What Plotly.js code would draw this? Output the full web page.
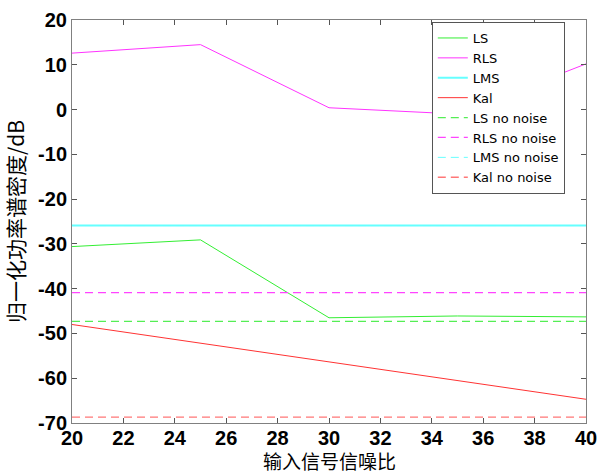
<!DOCTYPE html>
<html>
<head>
<meta charset="utf-8">
<script src="https://cdn.plot.ly/plotly-3.0.1.min.js"></script>
<style>html,body{margin:0;padding:0;background:#fff;}#chart{width:601px;height:476px;}</style>
</head>
<body>
<div id="chart"></div>
<script>
var snr = [20, 25, 30, 35, 40];
var ls = [-30.6, -29.1, -46.5, -46.1, -46.3];
var rls = [12.6, 14.5, 0.4, -1.0, 10.2];
var lms = [-25.9, -25.9, -25.9, -25.9, -25.9];
var kal = [-48.0, -52.2, -56.4, -60.6, -64.7];
var lsNoNoise = [-47.3, -47.3, -47.3, -47.3, -47.3];
var rlsNoNoise = [-40.9, -40.9, -40.9, -40.9, -40.9];
var lmsNoNoise = [-25.9, -25.9, -25.9, -25.9, -25.9];
var kalNoNoise = [-68.7, -68.7, -68.7, -68.7, -68.7];
var names = ['LS', 'RLS', 'LMS', 'Kal', 'LS no noise', 'RLS no noise', 'LMS no noise', 'Kal no noise'];
var xTicks = [20, 22, 24, 26, 28, 30, 32, 34, 36, 38, 40];
var yTicks = [-70, -60, -50, -40, -30, -20, -10, 0, 10, 20];
var xTitle = '输入信号信噪比';
var yTitle = '归一化功率谱密度/dB';

var series = [ls, rls, lms, kal, lsNoNoise, rlsNoNoise, lmsNoNoise, kalNoNoise];
var colors = ['#33ee33', '#ff33ff', '#66ffff', '#ff3333', '#55ee55', '#ff44ff', '#66ffff', '#ff7777'];
var widths = [1, 1, 2, 1, 1.3, 1.3, 1, 1.3];
var dashes = ['solid', 'solid', 'solid', 'solid', 'dash', 'dash', 'dash', 'dash'];

var traces = series.map(function (s, i) {
  return {
    x: snr, y: s, type: 'scatter', mode: 'lines', name: names[i],
    line: {color: colors[i], width: widths[i], dash: dashes[i] === 'dash' ? '8px,5px' : 'solid'}
  };
});

var tickFont = {family: 'Liberation Sans, Arial, sans-serif', size: 20, color: '#000', weight: 'bold'};

var layout = {
  width: 601, height: 476,
  margin: {l: 72, r: 15, t: 20, b: 53},
  paper_bgcolor: '#ffffff', plot_bgcolor: '#ffffff',
  showlegend: true,
  legend: {
    x: 0.7, y: 0.995, xanchor: 'left', yanchor: 'top',
    bgcolor: '#ffffff', bordercolor: '#555555', borderwidth: 1,
    font: {family: 'DejaVu Sans, sans-serif', size: 13, color: '#000'},
    tracegroupgap: 0, itemwidth: 30
  },
  xaxis: {
    range: [20, 40], tickvals: xTicks, ticktext: xTicks.map(String),
    showgrid: false, zeroline: false,
    showline: true, linecolor: '#808080', linewidth: 1, mirror: 'ticks',
    ticks: 'inside', ticklen: 5, tickcolor: '#555555',
    tickfont: tickFont, ticklabelstandoff: -3
  },
  yaxis: {
    range: [-70, 20], tickvals: yTicks, ticktext: yTicks.map(String),
    showgrid: false, zeroline: false,
    showline: true, linecolor: '#808080', linewidth: 1, mirror: 'ticks',
    ticks: 'inside', ticklen: 5, tickcolor: '#555555',
    tickfont: tickFont,
    title: {text: yTitle, font: {family: 'Noto Sans CJK SC', size: 21, color: '#000'}}
  },
  annotations: [{
    text: xTitle, xref: 'paper', yref: 'paper', x: 0.5, y: -0.129,
    xanchor: 'center', yanchor: 'bottom', showarrow: false, borderpad: 0,
    font: {family: 'Noto Sans CJK SC', size: 19, color: '#000'}
  }]
};

Plotly.newPlot('chart', traces, layout, {staticPlot: true, displayModeBar: false});
</script>
</body>
</html>
